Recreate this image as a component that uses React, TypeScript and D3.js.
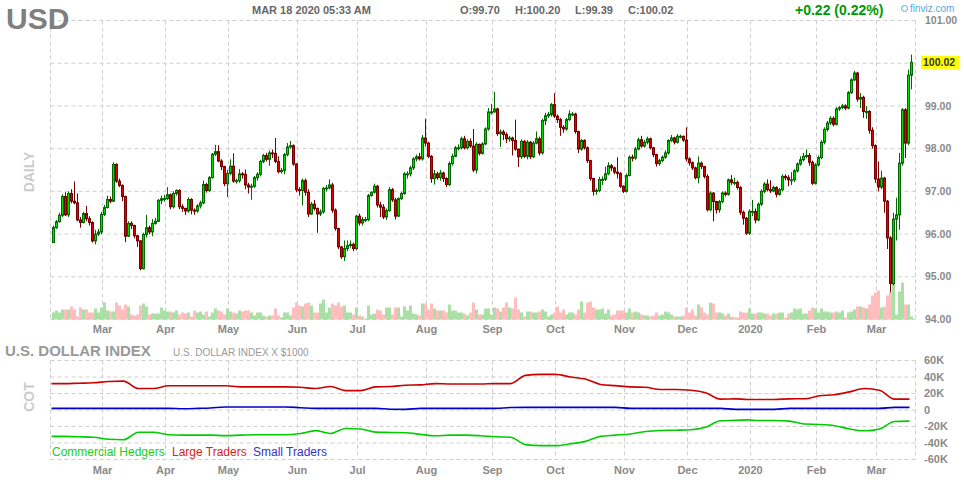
import React, { useEffect } from "react";
import * as d3 from "d3";

const FONT = "Arial, 'Liberation Sans', Helvetica, sans-serif";

const ticker = "USD";
const stamp = "MAR 18 2020 05:33 AM";
const ohlcText = ["O:99.70", "H:100.20", "L:99.39", "C:100.02"];
const changeText = "+0.22 (0.22%)";
const cotTitle = "U.S. DOLLAR INDEX";
const cotSubtitle = "U.S. DOLLAR INDEX X $1000";
const legendLabels = ["Commercial Hedgers", "Large Traders", "Small Traders"];
const lastPrice = 100.02;

const firstOpen = 95.8;
const closes = [
  96.15, 96.29, 96.44, 96.88, 96.45, 96.95, 96.77, 96.73, 96.33, 96.27,
  96.48, 96.36, 96.27, 95.84, 96.0, 96.05, 96.46, 96.62, 96.81, 96.77,
  97.63, 97.24, 97.14, 96.88, 95.95, 96.25, 96.2, 95.96, 95.84, 95.19,
  95.99, 96.15, 96.05, 96.25, 96.3, 96.79, 96.83, 96.83, 96.92, 96.64,
  96.95, 97.02, 96.64, 96.6, 96.54, 96.81, 96.56, 96.54, 96.66, 96.73,
  97.16, 97.02, 97.32, 97.87, 97.93, 97.71, 97.58, 97.18, 97.42, 97.59,
  97.24, 97.25, 97.41, 97.4, 97.15, 97.1, 97.12, 97.32, 97.4, 97.7,
  97.84, 97.75, 97.9, 97.89, 97.7, 97.46, 97.49, 97.86, 98.04, 98.07,
  97.64, 97.04, 97.02, 97.25, 96.98, 96.47, 96.7, 96.6, 96.47, 96.52,
  97.07, 97.08, 97.15, 96.56, 96.13, 95.7, 95.47, 95.66, 95.73, 95.76,
  95.66, 96.42, 96.26, 96.34, 96.34, 96.9, 96.98, 97.12, 96.68, 96.63,
  96.4, 96.55, 97.04, 96.8, 96.42, 96.83, 96.95, 97.41, 97.41, 97.55,
  97.76, 97.81, 97.76, 98.25, 98.13, 97.82, 97.3, 97.41, 97.32, 97.43,
  97.3, 97.16, 97.65, 97.82, 98.02, 98.02, 98.23, 98.02, 98.17, 98.06,
  97.5, 98.1, 97.89, 98.11, 98.46, 98.86, 98.86, 98.93, 98.35, 98.39,
  98.33, 98.23, 98.25, 98.19, 97.99, 97.81, 98.17, 97.82, 98.15, 97.81,
  98.13, 98.23, 97.9, 98.66, 98.77, 98.8, 99.03, 98.76, 98.68, 98.5,
  98.46, 98.68, 98.81, 98.81, 98.4, 97.99, 98.19, 98.02, 97.72, 97.3,
  97.0, 97.02, 97.28, 97.28, 97.41, 97.6, 97.55, 97.45, 97.42, 97.12,
  97.0, 97.37, 97.8, 97.78, 97.99, 98.21, 98.06, 98.15, 98.23, 98.02,
  97.86, 97.65, 97.72, 97.8, 97.9, 98.19, 98.25, 98.15, 98.29, 98.29,
  98.2, 97.76, 97.67, 97.55, 97.32, 97.66, 97.58, 97.35, 96.57, 96.96,
  96.76, 96.57, 96.76, 96.96, 96.93, 97.27, 97.21, 97.21, 97.09, 96.51,
  96.37, 96.02, 96.53, 96.53, 96.33, 96.7, 97.0, 97.17, 97.04, 97.01,
  97.09, 96.93, 97.04, 97.35, 97.32, 97.27, 97.27, 97.48, 97.64, 97.74,
  97.82, 97.84, 97.68, 97.19, 97.62, 97.79, 98.15, 98.45, 98.6, 98.71,
  98.57, 98.93, 98.96, 99.0, 98.95, 99.31, 99.61, 99.77, 99.16, 99.2,
  98.87, 98.87, 98.43, 98.07, 97.29, 97.1, 97.31, 96.77, 95.91, 94.84,
  96.35, 96.45, 97.66, 98.91, 98.13, 99.72, 100.02,
];
const highs = [
  96.2, 96.33, 96.5, 96.93, 96.98, 97.0, 97.05, 97.23, 96.95, 96.4,
  96.52, 96.66, 96.42, 96.3, 96.1, 96.12, 96.52, 96.68, 96.9, 96.88,
  97.68, 97.66, 97.3, 97.16, 96.9, 96.3, 96.3, 96.22, 95.98, 95.86,
  96.03, 96.45, 96.2, 96.35, 96.38, 96.82, 96.9, 96.92, 97.1, 96.95,
  97.0, 97.05, 97.05, 96.7, 96.62, 96.86, 96.84, 96.6, 96.7, 96.78,
  97.25, 97.2, 97.36, 97.9, 98.09, 98.08, 97.75, 97.6, 97.5, 97.75,
  97.89, 97.3, 97.52, 97.45, 97.51, 97.2, 97.18, 97.36, 97.45, 97.74,
  97.88, 97.9, 97.96, 97.98, 98.25, 97.82, 97.55, 97.9, 98.13, 98.18,
  98.1, 97.66, 97.1, 97.3, 97.3, 97.05, 96.75, 96.8, 96.62, 96.58,
  97.1, 97.15, 97.28, 97.2, 96.6, 96.15, 95.72, 95.85, 95.85, 95.85,
  95.8, 96.45, 96.48, 96.4, 96.4, 96.94, 97.0, 97.18, 97.15, 96.75,
  96.7, 96.6, 97.1, 97.08, 96.85, 96.86, 96.99, 97.45, 97.47, 97.6,
  97.8, 97.86, 97.9, 98.32, 98.7, 98.16, 97.85, 97.5, 97.46, 97.5,
  97.46, 97.33, 97.7, 97.88, 98.06, 98.1, 98.28, 98.3, 98.22, 98.24,
  98.46, 98.15, 98.12, 98.15, 98.5, 98.95, 99.05, 99.33, 98.96, 98.45,
  98.44, 98.38, 98.3, 98.28, 98.68, 98.0, 98.22, 98.2, 98.2, 98.18,
  98.18, 98.4, 98.28, 98.7, 98.84, 98.86, 99.07, 99.3, 98.8, 98.72,
  98.55, 98.72, 98.9, 98.86, 98.84, 98.42, 98.23, 98.22, 98.05, 97.74,
  97.32, 97.07, 97.34, 97.35, 97.58, 97.68, 97.64, 97.58, 97.8, 97.45,
  97.14, 97.42, 97.84, 97.86, 98.04, 98.26, 98.3, 98.2, 98.28, 98.26,
  98.04, 97.88, 97.76, 97.84, 97.96, 98.22, 98.32, 98.28, 98.34, 98.33,
  98.3, 98.5, 97.8, 97.7, 97.58, 97.82, 97.7, 97.6, 97.4, 97.0,
  96.98, 96.78, 96.8, 97.0, 97.0, 97.3, 97.38, 97.32, 97.25, 97.12,
  96.55, 96.4, 96.58, 96.8, 96.6, 96.74, 97.05, 97.22, 97.28, 97.26,
  97.13, 97.12, 97.08, 97.4, 97.4, 97.38, 97.45, 97.52, 97.68, 97.82,
  97.9, 97.98, 97.9, 97.72, 97.66, 97.84, 98.2, 98.5, 98.65, 98.76,
  98.76, 98.97, 99.0, 99.05, 99.04, 99.35, 99.65, 99.82, 99.8, 99.3,
  99.24, 99.0, 98.9, 98.5, 98.1, 97.7, 97.48, 97.34, 96.8, 95.95,
  96.5, 96.85, 97.9, 98.95, 98.95, 99.85, 100.2,
];
const lows = [
  95.8, 96.12, 96.27, 96.4, 96.42, 96.4, 96.72, 96.7, 96.3, 96.15,
  96.25, 96.3, 96.2, 95.8, 95.76, 95.95, 96.0, 96.42, 96.6, 96.72,
  96.75, 97.2, 97.1, 96.77, 95.81, 95.93, 96.12, 95.9, 95.7, 95.15,
  95.17, 95.92, 96.0, 95.95, 96.22, 96.28, 96.7, 96.76, 96.8, 96.58,
  96.6, 96.9, 96.58, 96.52, 96.45, 96.5, 96.46, 96.45, 96.5, 96.6,
  96.7, 96.97, 96.98, 97.3, 97.83, 97.68, 97.5, 97.12, 96.87, 97.38,
  97.2, 97.18, 97.2, 97.3, 97.05, 96.95, 96.8, 97.08, 97.25, 97.35,
  97.66, 97.7, 97.6, 97.78, 97.66, 97.42, 97.42, 97.4, 97.82, 98.0,
  97.6, 96.98, 96.9, 96.67, 96.9, 96.4, 96.45, 96.55, 96.03, 96.42,
  96.48, 97.0, 97.05, 96.5, 96.08, 95.65, 95.42, 95.37, 95.6, 95.68,
  95.6, 95.62, 96.2, 96.2, 96.28, 96.3, 96.88, 96.95, 96.62, 96.4,
  96.35, 96.33, 96.52, 96.75, 96.34, 96.4, 96.8, 96.92, 97.3, 97.35,
  97.5, 97.7, 97.72, 97.72, 98.05, 97.78, 97.2, 97.16, 97.27, 97.25,
  97.22, 97.1, 97.12, 97.6, 97.8, 97.96, 97.98, 97.98, 97.98, 98.02,
  97.45, 97.42, 97.84, 97.86, 98.08, 98.42, 98.8, 98.84, 98.3, 98.04,
  98.2, 98.13, 98.16, 97.84, 97.95, 97.57, 97.76, 97.78, 97.75, 97.76,
  97.78, 98.1, 97.84, 97.86, 98.55, 98.72, 98.75, 98.72, 98.6, 98.3,
  98.37, 98.42, 98.65, 98.76, 98.35, 97.9, 97.95, 97.98, 97.66, 97.25,
  96.9, 96.92, 96.98, 97.15, 97.24, 97.38, 97.48, 97.4, 97.3, 97.08,
  96.96, 96.97, 97.35, 97.7, 97.74, 97.96, 98.02, 98.02, 98.1, 97.98,
  97.8, 97.58, 97.6, 97.68, 97.76, 97.86, 98.16, 98.1, 98.12, 98.24,
  98.16, 97.7, 97.6, 97.5, 97.28, 97.19, 97.52, 97.3, 96.53, 96.53,
  96.3, 96.48, 96.5, 96.72, 96.88, 96.9, 97.15, 97.14, 97.04, 96.45,
  96.22, 95.98, 95.98, 96.42, 96.25, 96.3, 96.66, 96.96, 97.0, 96.96,
  96.98, 96.86, 96.9, 97.0, 97.26, 97.12, 97.15, 97.22, 97.44, 97.6,
  97.7, 97.78, 97.6, 97.15, 97.16, 97.58, 97.75, 98.1, 98.4, 98.55,
  98.52, 98.54, 98.88, 98.92, 98.9, 98.92, 99.28, 99.58, 99.1, 98.95,
  98.72, 98.7, 98.35, 98.0, 97.2, 97.0, 97.05, 96.5, 95.65, 94.63,
  94.8, 95.85, 96.1, 97.6, 97.78, 98.08, 99.39,
];
const volumes = [
  7, 9, 7, 10, 10, 10, 13, 10, 3, 12, 10, 10, 7, 7, 11, 7, 12, 17, 9, 8,
  8, 17, 14, 10, 15, 13, 5, 4, 5, 14, 16, 13, 5, 6, 6, 6, 12, 9, 8, 8,
  7, 9, 5, 7, 6, 7, 3, 9, 7, 8, 5, 8, 3, 7, 11, 9, 8, 5, 11,
  8, 7, 6, 9, 8, 9, 9, 7, 4, 7, 7, 4, 3, 4, 4, 11, 4, 2, 7, 7,
  4, 12, 17, 14, 13, 16, 17, 14, 7, 7, 16, 20, 7, 12, 16, 14, 17, 13, 14, 7,
  7, 5, 12, 4, 3, 1, 14, 5, 6, 10, 9, 5, 12,
  12, 5, 12, 12, 3, 13, 9, 14, 6, 5, 4, 16, 16, 10, 16, 11, 9, 9, 9, 7,
  15, 9, 9, 7, 7, 6, 4, 7, 17, 10, 5, 5, 11, 11, 5, 12, 11, 8, 12, 17,
  12, 11, 22, 10, 7, 3, 8, 8, 7, 7, 8, 10,
  8, 3, 5, 7, 13, 7, 10, 5, 7, 7, 5, 10, 18, 7, 17, 18, 12, 10, 10, 11,
  6, 10, 4, 5, 9, 9, 9, 7, 11, 7, 8, 7, 5, 4, 4, 3, 4, 7, 4, 5,
  8, 7, 5, 3, 3, 3, 4, 12, 7, 10, 4, 15,
  12, 7, 5, 17, 16, 7, 7, 6, 4, 6, 3, 2, 2, 8, 7, 7, 11, 6, 6, 7,
  7, 6, 6, 4, 6, 6, 7, 7, 2, 6, 7, 11, 10, 11, 6, 6, 9, 12, 11, 7,
  11, 8, 8,
  7, 7, 8, 7, 9, 2, 7, 8, 10, 13, 13, 12, 11, 15, 24, 27, 29, 12, 13, 24,
  27, 37, 5, 28, 37, 15, 15, 3,
];
const holidays = ["2019-04-19", "2019-12-25", "2020-01-01"];
const priceTicks = [94, 95, 96, 97, 98, 99, 100, 101];
const cotTicks = [60, 40, 20, 0, -20, -40, -60];

const cotLarge = [
  32, 32, 32.5, 33, 34.5, 35, 26, 26, 29.4, 29.4,
  29.4, 29.4, 29.4, 28, 28, 28, 28, 27.5, 26, 28.5,
  23.5, 23.5, 28, 28.5, 30, 30.5, 32, 31.5, 31.5, 31.5,
  32, 32, 42, 43.2, 43.2, 40, 37.5, 31, 29.5, 28,
  27.5, 24.8, 24.8, 24, 21, 13.2, 13.5, 12.8, 12.8, 12.8,
  13.5, 13.6, 17.2, 18.5, 22, 26, 24, 13.2, 13.2,
];
const cotCommercial = [
  -32, -32, -32.5, -33, -35.5, -36, -27, -27, -30, -30.5,
  -30.5, -30.5, -31, -30.5, -30, -30, -30, -28.5, -25, -28.4,
  -22.4, -23, -26.8, -27.2, -27.5, -29.5, -31.2, -30.5, -30.5, -31.2,
  -32.5, -33, -42, -43.2, -43.2, -41, -38, -32, -30.5, -29,
  -26, -24.8, -24.5, -24, -21, -13, -12.5, -12, -12.8, -12.8,
  -13.5, -17, -17.5, -19, -23, -25.2, -23, -14, -13.5,
];
const cotSmall = [
  2, 2, 2, 2, 2, 2, 2, 2, 2, 1.5,
  2, 2.5, 3.6, 3.6, 3.6, 3.6, 3.6, 2.8, 2, 2,
  2, 2, 2, 1, 0.8, 2, 2, 2, 2, 2,
  2, 3, 3.2, 3.2, 3.2, 3.2, 3.2, 3.2, 3.2, 2,
  2, 2, 2, 2, 2, 2, 0.8, 0.8, 0.8, 0.8,
  2, 2, 2, 2, 2, 2, 2, 3.2, 3.2,
];

const GRID = "#cfcfcf";
const DASH = "4,3";
const UP_FILL = "#00dd00";
const UP_LINE = "#006a00";
const DN_FILL = "#e00000";
const DN_LINE = "#7a0000";
const VOL_UP = "#aadfa6";
const VOL_DN = "#ffbdbd";
const AXIS_TXT = "#8a8a8a";

export default function App() {
  useEffect(() => {
    document.body.style.margin = "0";
  }, []);

  const fmt = d3.timeFormat("%Y-%m-%d");
  const dates = d3
    .timeDay.range(new Date(2019, 1, 6), new Date(2020, 2, 18))
    .filter((d) => d.getDay() > 0 && d.getDay() < 6 && !holidays.includes(fmt(d)));
  const n = closes.length;
  const times = dates.map((d) => +d);

  const x = d3.scaleLinear().domain([0, n + 1]).range([51.5, 51.5 + 3 * (n + 1)]);
  const left = 50.5;
  const right = x(n + 1);
  const y = d3.scaleLinear().domain([94, 101]).range([319.5, 20.5]);
  const yv = d3.scaleLinear().domain([0, 40]).range([319.5, 279.5]);
  const yc = d3.scaleLinear().domain([-60, 60]).range([459.5, 360.5]);

  const bars = closes.map((c, i) => {
    const o = i === 0 ? firstOpen : closes[i - 1];
    return {
      i,
      o,
      c,
      h: Math.max(highs[i], o, c),
      l: Math.min(lows[i], o, c),
      v: volumes[i],
      up: c >= o,
    };
  });

  const monthTicks: { i: number; label: string }[] = [];
  for (let i = 1; i < Math.min(n, dates.length); i++) {
    if (dates[i].getMonth() !== dates[i - 1].getMonth()) {
      monthTicks.push({
        i,
        label: dates[i].getMonth() === 0 ? String(dates[i].getFullYear()) : d3.timeFormat("%b")(dates[i]),
      });
    }
  }

  const weekX = cotLarge.map((_, k) => {
    const d = d3.timeDay.offset(new Date(2019, 1, 5), 7 * k);
    return x(d3.bisectLeft(times, +d));
  });
  const cotLine = d3
    .line<number>()
    .x((_, k) => weekX[k])
    .y((v) => yc(v))
    .curve(d3.curveMonotoneX);

  const vLines = [left, ...monthTicks.map((t) => x(t.i)), right];
  const shownPriceTicks = priceTicks.filter((t) => Math.abs(y(t) - y(lastPrice)) > 10);

  return (
    <svg
      width={964}
      height={480}
      style={{ position: "absolute", left: 0, top: 0, display: "block", background: "#fff" }}
      fontFamily={FONT}
    >
      {/* price grid */}
      {priceTicks.map((t) => (
        <line key={"hp" + t} x1={left} x2={right} y1={y(t)} y2={y(t)} stroke={GRID} strokeDasharray={DASH} />
      ))}
      {vLines.map((vx, k) => (
        <line key={"vp" + k} x1={vx} x2={vx} y1={y(101)} y2={y(94)} stroke={GRID} strokeDasharray={DASH} />
      ))}

      {/* volume */}
      {bars.map((b) => (
        <rect
          key={"v" + b.i}
          x={x(b.i) + 0.5}
          y={yv(b.v)}
          width={3}
          height={yv(0) - yv(b.v)}
          fill={b.up ? VOL_UP : VOL_DN}
        />
      ))}

      {/* wicks */}
      {bars.map((b) => (
        <line
          key={"w" + b.i}
          x1={x(b.i) + 2}
          x2={x(b.i) + 2}
          y1={y(b.h)}
          y2={y(b.l)}
          stroke={b.up ? UP_LINE : DN_LINE}
          strokeWidth={1}
        />
      ))}
      {/* bodies */}
      {bars.map((b) => {
        const top = y(Math.max(b.o, b.c));
        const bot = y(Math.min(b.o, b.c));
        return (
          <rect
            key={"b" + b.i}
            x={x(b.i) + 1}
            y={top}
            width={2}
            height={Math.max(1, bot - top)}
            fill={b.up ? UP_FILL : DN_FILL}
            stroke={b.up ? UP_LINE : DN_LINE}
            strokeWidth={1}
          />
        );
      })}

      {/* price axis labels */}
      {shownPriceTicks.map((t) => (
        <text key={"pl" + t} x={925} y={y(t)} dy="0.35em" fontSize={10.5} fontWeight="bold" fill={AXIS_TXT}>
          {t.toFixed(2)}
        </text>
      ))}
      <rect x={921} y={y(lastPrice) - 6.5} width={38} height={13} fill="#ffff00" />
      <text x={923} y={y(lastPrice)} dy="0.35em" fontSize={10.5} fontWeight="bold" fill="#333">
        {lastPrice.toFixed(2)}
      </text>

      {/* month labels top */}
      {monthTicks.map((t) => (
        <text key={"mt" + t.i} x={x(t.i)} y={333} textAnchor="middle" fontSize={11} fontWeight="bold" fill={AXIS_TXT}>
          {t.label}
        </text>
      ))}

      {/* header */}
      <text x={6} y={28.5} fontSize={30} fontWeight="bold" fill="#7f7f7f">
        {ticker}
      </text>
      <text x={252} y={13.5} fontSize={11} fontWeight="bold" fill="#666">
        {stamp}
      </text>
      {ohlcText.map((s, k) => (
        <text key={s} x={[460, 515, 575, 628][k]} y={13.5} fontSize={11} fontWeight="bold" fill="#666">
          {s}
        </text>
      ))}
      <text x={795} y={15} fontSize={14} fontWeight="bold" fill="#009900">
        {changeText}
      </text>
      <circle cx={904.5} cy={8.5} r={3} fill="none" stroke="#5aa8dc" strokeWidth={1} />
      <text x={910} y={12} fontSize={10} fill="#5aa8dc">
        finviz.com
      </text>
      <text
        transform="translate(34,172) rotate(-90)"
        textAnchor="middle"
        fontSize={14}
        fontWeight="bold"
        fill="#cccccc"
      >
        DAILY
      </text>

      {/* COT panel */}
      <text x={5} y={356} fontSize={15} fontWeight="bold" fill="#999">
        {cotTitle}
      </text>
      <text x={173} y={356} fontSize={10} fill="#999">
        {cotSubtitle}
      </text>
      {cotTicks.map((t) => (
        <line key={"hc" + t} x1={left} x2={right} y1={yc(t)} y2={yc(t)} stroke={GRID} strokeDasharray={DASH} />
      ))}
      {vLines.map((vx, k) => (
        <line key={"vc" + k} x1={vx} x2={vx} y1={yc(60)} y2={yc(-60)} stroke={GRID} strokeDasharray={DASH} />
      ))}
      <path d={cotLine(cotLarge) || ""} fill="none" stroke="#cc0000" strokeWidth={1.6} />
      <path d={cotLine(cotSmall) || ""} fill="none" stroke="#0000cc" strokeWidth={1.6} />
      <path d={cotLine(cotCommercial) || ""} fill="none" stroke="#00cc00" strokeWidth={1.6} />
      {cotTicks.map((t) => (
        <text key={"cl" + t} x={924} y={yc(t)} dy="0.35em" fontSize={11} fontWeight="bold" fill={AXIS_TXT}>
          {t === 0 ? "0" : `${t}K`}
        </text>
      ))}
      <text
        transform="translate(34,397) rotate(-90)"
        textAnchor="middle"
        fontSize={14}
        fontWeight="bold"
        fill="#cccccc"
      >
        COT
      </text>
      {legendLabels.map((s, k) => (
        <text key={s} x={[52, 172, 253][k]} y={456} fontSize={12} fill={["#22cc22", "#dd2222", "#3333cc"][k]}>
          {s}
        </text>
      ))}
      {monthTicks.map((t) => (
        <text key={"mb" + t.i} x={x(t.i)} y={474} textAnchor="middle" fontSize={11} fontWeight="bold" fill={AXIS_TXT}>
          {t.label}
        </text>
      ))}
    </svg>
  );
}
